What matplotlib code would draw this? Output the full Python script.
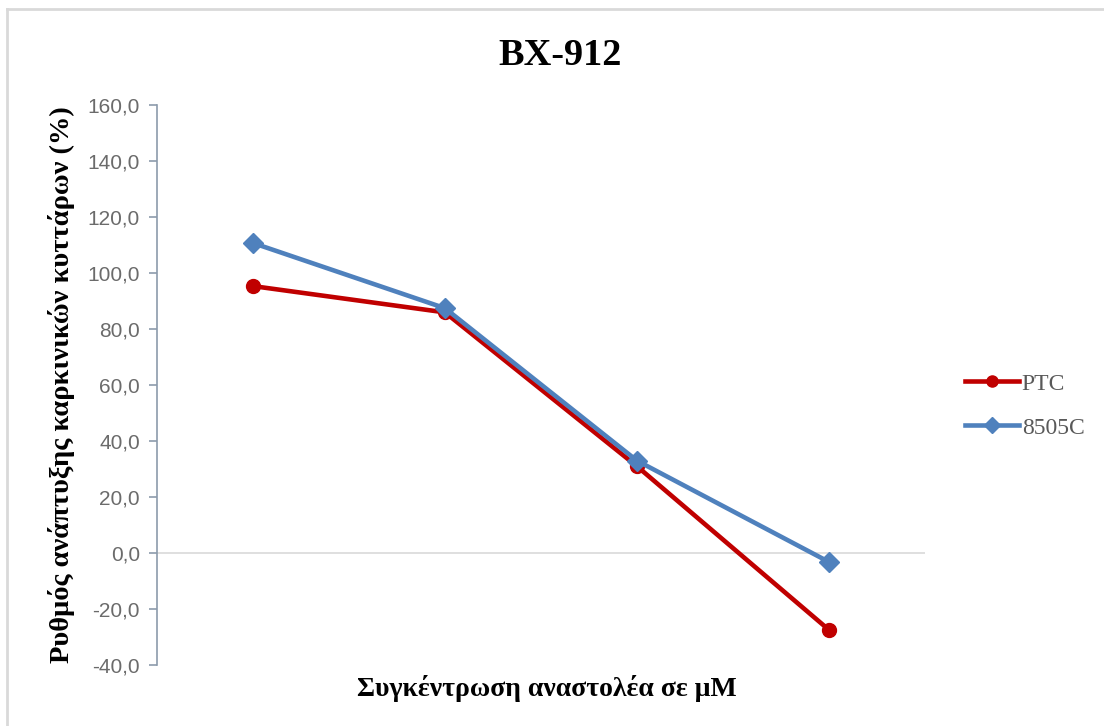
import matplotlib
matplotlib.use("Agg")
import matplotlib.pyplot as plt
from matplotlib.lines import Line2D
from matplotlib.ticker import FuncFormatter

# data
concentrations = ["c1", "c2", "c3", "c4"]          # x categories (no labels shown)
ptc = [95.4, 86.0, 31.0, -27.5]
c8505 = [110.8, 87.5, 33.0, -3.2]
yticks = [-40, -20, 0, 20, 40, 60, 80, 100, 120, 140, 160]

SERIF = ["Liberation Serif", "DejaVu Serif"]

fig = plt.figure(figsize=(11.04, 7.26), dpi=100)
ax = fig.add_axes([0.142, 0.084, 0.696, 0.771])

x = list(range(len(concentrations)))
ax.axhline(0, color="#D9D9D9", lw=1.2, zorder=1)
ax.plot(x, ptc, "-o", color="#C00000", lw=3.3, ms=10, label="PTC", zorder=3)
ax.plot(x, c8505, "-D", color="#4F81BD", lw=3.3, ms=10, label="8505C", zorder=4)

ax.set_xlim(-0.5, 3.5)
ax.set_ylim(-40, 160)
ax.set_yticks(yticks)
ax.yaxis.set_major_formatter(FuncFormatter(lambda v, p: f"{v:.1f}".replace(".", ",")))
ax.set_xticks([])
for s in ("top", "right", "bottom"):
    ax.spines[s].set_visible(False)
ax.spines["left"].set_color("#8C9BAB")
ax.spines["left"].set_linewidth(1.2)
ax.tick_params(axis="y", direction="out", length=6, width=1.2, color="#8C9BAB",
               labelcolor="#6B6B6B", labelsize=15, pad=6)
for t in ax.get_yticklabels():
    t.set_family(["Liberation Sans", "DejaVu Sans"])

fig.text(0.507, 0.924, "BX-912", ha="center", va="center", fontsize=27.5,
         fontweight="bold", family=SERIF)
fig.text(0.495, 0.052, "Συγκέντρωση αναστολέα σε μΜ", ha="center", va="center",
         fontsize=20, fontweight="bold", family=SERIF)
fig.text(0.056, 0.47, "Ρυθμός ανάπτυξης καρκινικών κυττάρων (%)", ha="center",
         va="center", rotation=90, fontsize=20.5, fontweight="bold", family=SERIF)

leg = fig.legend(loc="center left", bbox_to_anchor=(0.855, 0.441), frameon=False,
                 prop={"family": SERIF, "size": 17}, handlelength=2.3,
                 handletextpad=0.1, labelspacing=0.95, markerscale=0.8)
for t in leg.get_texts():
    t.set_color("#595959")

# light frame on top and left, like the pasted chart border
fig.add_artist(Line2D([0.006, 1.0], [0.987, 0.987], transform=fig.transFigure,
                      color="#D9D9D9", lw=2))
fig.add_artist(Line2D([0.006, 0.006], [0.0, 0.987], transform=fig.transFigure,
                      color="#D9D9D9", lw=2))

fig.savefig("out.png", dpi=100)
